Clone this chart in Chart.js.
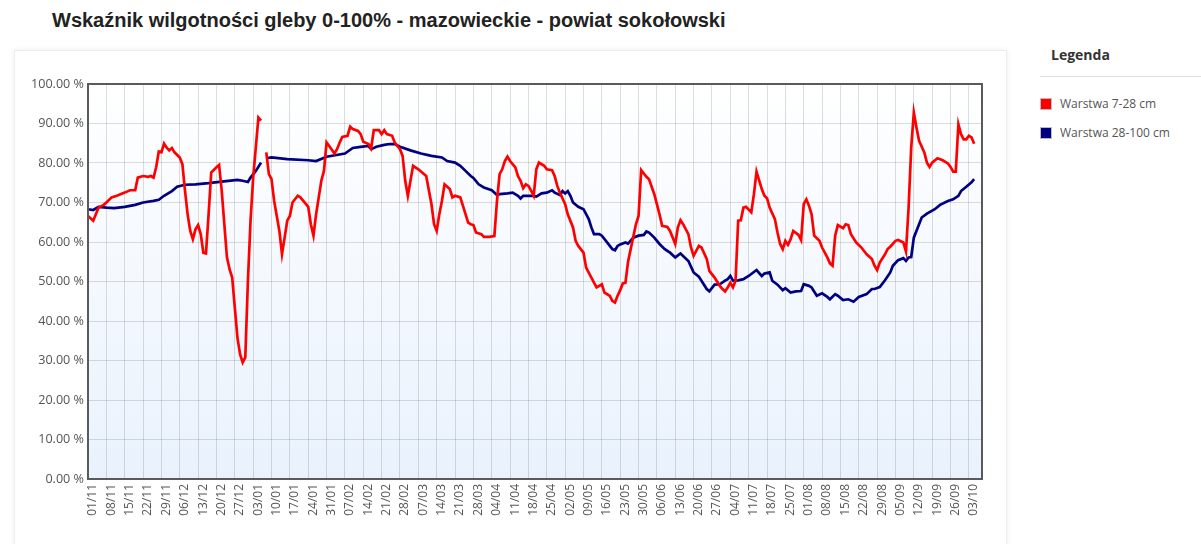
<!DOCTYPE html>
<html lang="pl">
<head>
<meta charset="utf-8">
<title>Wskaźnik wilgotności gleby</title>
<script src="https://cdn.jsdelivr.net/npm/chart.js@4/dist/chart.umd.min.js"></script>
<style>
  body { margin: 0; background: #fff; width: 1201px; height: 544px; overflow: hidden; position: relative; font-family: "Open Sans", "Noto Sans", sans-serif; }
  h1 { position: absolute; left: 52px; top: 9px; margin: 0; font: bold 20px "Liberation Sans", Arial, sans-serif; color: #222; }
  .box { position: absolute; left: 14px; top: 50px; width: 991px; height: 510px; background: #fff; border: 1px solid #ececec; box-shadow: 0 0 6px rgba(0,0,0,0.07); }
  .box canvas { position: absolute; left: 0; top: 0; }
  .legend { position: absolute; left: 1040px; top: 42px; width: 161px; }
  .legend h2 { margin: 0 0 0 11px; font: bold 14px "Open Sans", sans-serif; color: #333; line-height: 26px; }
  .legend hr { border: 0; border-top: 1px solid #ddd; margin: 8px 0 12px 0; }
  .legend .item { display: flex; align-items: center; height: 29px; font-size: 12px; color: #555; }
  .legend .sw { width: 10px; height: 10px; border: 1px solid #bbb; margin-right: 8px; }
</style>
</head>
<body>
<h1>Wskaźnik wilgotności gleby 0-100% - mazowieckie - powiat sokołowski</h1>
<div class="box"><canvas id="chart" width="991" height="494"></canvas></div>
<div class="legend">
  <h2>Legenda</h2>
  <hr>
  <div id="legendItems"></div>
</div>
<script>
const tickLabels = ['01/11','08/11','15/11','22/11','29/11','06/12','13/12','20/12','27/12','03/01',
  '10/01','17/01','24/01','31/01','07/02','14/02','21/02','28/02','07/03','14/03','21/03','28/03',
  '04/04','11/04','18/04','25/04','02/05','09/05','16/05','23/05','30/05','06/06','13/06','20/06',
  '27/06','04/07','11/07','18/07','25/07','01/08','08/08','15/08','22/08','29/08','05/09','12/09',
  '19/09','26/09','03/10'];

const seriesNames = ['Warstwa 7-28 cm', 'Warstwa 28-100 cm'];

// day index counted from 01/11
const redDays = [0,2,4,6,7,9,11,14,16,18,19,21,23,24,25,26,27,28,29,30,31,32,33,35,36,37,38,39,40,41,42,43,44,45,46,47,49,50,51,52,53,54,55,56,57,58,59,60,61,62,63,64,65,66,67,
  68,69,70,71,73,74,75,76,77,78,80,81,83,84,85,86,87,89,90,91,92,94,95,96,97,99,100,101,103,104,105,107,108,109,111,112,113,114,116,117,119,120,121,122,123,124,126,128,129,131,132,133,134,135,136,138,139,140,142,143,145,146,147,148,150,151,153,155,156,157,158,159,160,161,163,164,165,166,167,168,169,170,171,172,174,175,177,178,179,180,182,183,185,186,187,189,190,192,193,194,195,196,197,199,200,201,202,203,204,205,206,207,209,210,211,213,214,216,218,219,221,222,224,225,226,227,229,230,231,233,234,236,237,239,241,242,243,244,245,246,247,248,249,250,251,253,254,255,257,258,259,260,262,263,264,265,266,267,268,269,271,272,273,274,275,276,277,279,280,282,283,284,285,286,288,289,290,291,293,295,297,299,300,301,302,304,305,306,308,309,311,312,313,314,315,316,317,319,320,321,322,324,326,328,329,330,331,332,333,334,335,336,337,338];
const redValues = [66.6,65.4,68.7,69.4,70.0,71.3,71.7,72.5,73.1,73.1,76.3,76.7,76.5,76.7,76.3,78.9,82.9,82.7,84.9,83.9,83.2,83.8,82.7,81.4,79.7,73.0,67.0,62.8,60.7,63.2,64.3,62.0,57.3,57.1,67.0,77.6,78.9,79.5,73.0,64.5,56.1,53.1,51.0,43.4,35.8,31.6,29.5,30.8,50.2,65.4,76.3,83.9,91.5,90.7,null,
  82.7,77.2,75.9,70.4,62.8,56.9,61.1,65.4,66.6,70.0,71.7,71.3,69.7,68.9,64.5,61.6,67.0,75.5,78.0,85.2,84.3,82.4,83.5,85.2,86.6,86.9,89.2,88.6,88.1,87.3,85.4,84.8,83.7,88.3,88.3,87.3,88.3,87.3,86.9,85.2,83.5,81.8,75.5,71.7,75.5,79.3,78.4,77.3,76.7,69.6,64.5,62.8,67.0,70.4,74.6,73.4,71.3,71.7,71.3,69.2,64.9,64.5,64.3,62.4,62.0,61.3,61.3,61.5,70.4,77.2,78.4,80.5,81.6,80.5,78.9,76.7,75.5,73.6,74.6,74.2,73.0,71.7,78.4,80.1,79.3,78.4,78.2,76.7,74.2,72.5,69.6,67.0,63.7,60.3,59.0,57.3,53.5,51.0,49.7,48.5,48.9,49.3,47.2,46.4,45.1,44.7,46.4,47.8,49.5,49.7,55.0,58.2,64.5,66.6,78.2,76.5,75.9,72.1,67.0,64.1,63.8,62.8,59.5,63.7,65.5,64.5,62.0,58.6,56.5,59.0,58.6,55.7,52.7,51.0,48.9,48.1,47.5,48.5,49.7,48.5,50.2,65.4,65.5,68.7,68.9,67.5,72.1,77.8,73.4,71.7,71.1,68.7,65.8,62.4,59.5,58.2,60.3,59.3,60.7,62.8,61.8,60.5,69.6,70.8,69.2,67.0,61.6,60.3,58.6,56.1,54.6,54.0,61.6,64.3,63.5,64.5,64.3,62.0,59.9,58.6,56.9,55.7,54.0,52.9,54.8,56.9,58.2,58.8,60.3,60.5,59.9,57.6,68.7,83.9,92.8,89.0,85.6,82.7,80.1,79.0,80.1,81.2,80.7,79.9,79.0,77.8,77.8,89.8,87.3,86.0,86.0,86.9,86.5,84.9];

const blueDays = [0,2,4,7,10,14,18,21,25,27,29,32,34,37,41,46,51,57,59,61,62,64,66,67,
  68,70,76,84,87,91,98,101,104,107,108,110,113,115,117,119,123,127,131,135,137,140,142,144,146,147,149,151,154,156,157,160,162,164,165,166,169,171,173,175,177,178,180,181,182,183,184,185,187,189,191,192,193,195,196,198,200,201,202,203,205,206,208,210,212,213,214,216,218,220,222,224,226,229,231,233,234,236,237,239,241,243,244,245,246,248,250,252,253,255,257,258,260,261,263,265,266,268,270,272,273,275,276,278,280,282,283,285,286,288,290,292,294,297,299,300,302,304,306,307,309,311,312,313,314,315,317,318,320,323,325,328,330,332,333,335,337,338];
const blueValues = [68.3,68.1,68.9,68.7,68.6,68.9,69.4,70.0,70.4,70.7,71.7,72.9,74.0,74.5,74.6,74.9,75.3,75.7,75.5,75.2,76.3,78.0,80.1,null,
  81.2,81.4,81.0,80.7,80.5,81.6,82.4,83.8,84.1,84.3,83.5,84.1,84.6,84.8,84.8,84.1,83.2,82.4,81.8,81.4,80.5,80.1,79.3,78.0,76.7,76.2,74.6,73.8,73.1,71.9,72.1,72.3,72.5,71.7,71.0,71.7,71.7,71.5,72.3,72.5,73.1,72.5,71.9,72.9,72.3,72.9,71.7,70.0,68.9,68.3,65.8,63.7,62.0,62.0,61.6,59.9,58.2,57.9,59.0,59.4,59.9,59.6,61.1,61.6,61.8,62.7,62.4,61.1,59.5,58.2,57.3,56.1,57.1,55.2,52.3,51.2,50.2,48.1,47.5,49.2,49.3,50.2,50.6,51.4,50.2,50.3,50.6,51.4,51.9,52.9,51.4,52.0,52.3,50.2,49.2,47.8,48.3,47.2,47.5,47.6,49.3,48.9,48.5,46.4,47.0,46.1,45.5,46.8,46.4,45.3,45.5,44.9,46.1,46.8,48.1,48.1,48.6,50.3,52.3,54.0,55.4,55.9,55.2,56.1,56.2,61.1,64.5,66.2,67.2,68.3,69.4,70.4,70.8,71.7,72.9,74.0,75.1,75.9];

const seriesColors = ['#ff0000', '#000080'];

function points(days, values) {
    return days.map((d, i) => ({ x: d, y: values[i] }));
}

// plot background and frame
const plotFrame = {
    id: 'plotFrame',
    beforeDraw(chart) {
        const { ctx, chartArea: a } = chart;
        const g = ctx.createLinearGradient(0, a.top, 0, a.bottom);
        g.addColorStop(0, '#ffffff');
        g.addColorStop(1, '#e9f2fd');
        ctx.save();
        ctx.fillStyle = g;
        ctx.fillRect(a.left, a.top, a.right - a.left, a.bottom - a.top);
        ctx.restore();
    },
    afterDraw(chart) {
        const { ctx, chartArea: a } = chart;
        ctx.save();
        ctx.strokeStyle = '#5a5a5a';
        ctx.lineWidth = 2;
        ctx.strokeRect(a.left, a.top, a.right - a.left, a.bottom - a.top);
        ctx.restore();
    }
};

new Chart(document.getElementById('chart'), {
    type: 'line',
    data: {
        datasets: [{
            label: seriesNames[0],
            data: points(redDays, redValues),
            borderColor: seriesColors[0],
            borderWidth: 2.7,
            pointRadius: 0,
            tension: 0,
            spanGaps: false
        }, {
            label: seriesNames[1],
            data: points(blueDays, blueValues),
            borderColor: seriesColors[1],
            borderWidth: 2.7,
            pointRadius: 0,
            tension: 0,
            spanGaps: false
        }]
    },
    options: {
        responsive: false,
        animation: false,
        layout: { padding: { top: 33, right: 24, left: 0, bottom: 0 } },
        plugins: {
            legend: { display: false },
            tooltip: { enabled: false }
        },
        scales: {
            x: {
                type: 'linear',
                min: 0,
                max: 341,
                border: { display: false },
                grid: { color: 'rgba(0,0,0,0.13)', drawTicks: false },
                ticks: {
                    stepSize: 7,
                    includeBounds: false,
                    autoSkip: false,
                    maxTicksLimit: 100,
                    minRotation: 90,
                    maxRotation: 90,
                    labelOffset: 5,
                    padding: 5,
                    color: '#555',
                    font: { family: 'Open Sans', size: 12 },
                    callback: v => tickLabels[v / 7] || ''
                },
                afterFit: s => { s.height = 66; }
            },
            y: {
                min: 0,
                max: 100,
                border: { display: false },
                grid: { color: 'rgba(0,0,0,0.13)', drawTicks: false },
                ticks: {
                    stepSize: 10,
                    padding: 4,
                    color: '#555',
                    font: { family: 'Open Sans', size: 12.6 },
                    callback: v => v.toFixed(2) + ' %'
                },
                afterFit: s => { s.width = 73; }
            }
        }
    },
    plugins: [plotFrame]
});

const legendBox = document.getElementById('legendItems');
seriesNames.forEach((name, i) => {
    const row = document.createElement('div');
    row.className = 'item';
    row.innerHTML = '<span class="sw" style="background:' + seriesColors[i] + '"></span>' + name;
    legendBox.appendChild(row);
});
</script>
</body>
</html>
